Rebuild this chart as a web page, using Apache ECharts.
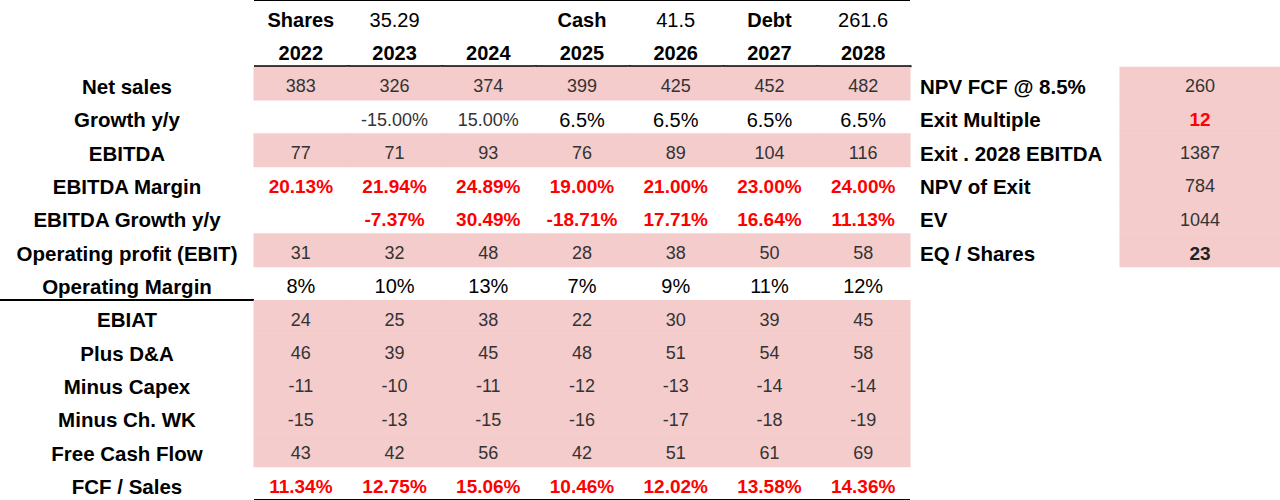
<!DOCTYPE html>
<html>
<head>
<meta charset="utf-8">
<script src="https://cdn.jsdelivr.net/npm/echarts@6/dist/echarts.min.js"></script>
<style>
  html, body { margin: 0; padding: 0; background: #fff; }
  #box { width: 1280px; height: 500px; }
</style>
</head>
<body>
<div id="box"></div>
<script>
var years = ['2022', '2023', '2024', '2025', '2026', '2027', '2028']
var headerTop = ['Shares', '35.29', '', 'Cash', '41.5', 'Debt', '261.6']
var rowLabels = ['Net sales', 'Growth y/y', 'EBITDA', 'EBITDA Margin', 'EBITDA Growth y/y',
  'Operating profit (EBIT)', 'Operating Margin', 'EBIAT', 'Plus D&A', 'Minus Capex',
  'Minus Ch. WK', 'Free Cash Flow', 'FCF / Sales']
var netSales = [383, 326, 374, 399, 425, 452, 482]
var growth = ['', '-15.00%', '15.00%', '6.5%', '6.5%', '6.5%', '6.5%']
var ebitda = [77, 71, 93, 76, 89, 104, 116]
var ebitdaMargin = ['20.13%', '21.94%', '24.89%', '19.00%', '21.00%', '23.00%', '24.00%']
var ebitdaGrowth = ['', '-7.37%', '30.49%', '-18.71%', '17.71%', '16.64%', '11.13%']
var ebit = [31, 32, 48, 28, 38, 50, 58]
var opMargin = ['8%', '10%', '13%', '7%', '9%', '11%', '12%']
var ebiat = [24, 25, 38, 22, 30, 39, 45]
var plusDA = [46, 39, 45, 48, 51, 54, 58]
var capex = [-11, -10, -11, -12, -13, -14, -14]
var changeWK = [-15, -13, -15, -16, -17, -18, -19]
var fcf = [43, 42, 56, 42, 51, 61, 69]
var fcfSales = ['11.34%', '12.75%', '15.06%', '10.46%', '12.02%', '13.58%', '14.36%']
var valuationLabels = ['NPV FCF @ 8.5%', 'Exit Multiple', 'Exit . 2028 EBITDA', 'NPV of Exit', 'EV', 'EQ / Shares']
var valuationValues = [260, 12, 1387, 784, 1044, 23]

var FONT = '"Liberation Sans", Arial, sans-serif'
var PINK = '#f4cccc'
var ROW_H = 33.6
var styles = {
  gray: { fill: '#333', fontSize: 18, fontWeight: 'normal' },
  plain: { fill: '#000', fontSize: 20, fontWeight: 'normal' },
  red: { fill: '#ff0000', fontSize: 19, fontWeight: 'bold' },
  bold: { fill: '#000', fontSize: 20, fontWeight: 'bold' },
  darkBold: { fill: '#222', fontSize: 19, fontWeight: 'bold' }
}

// table rows, top to bottom (2 header rows + 13 data rows)
var tableRows = [
  { values: headerTop, style: function (v) { return isNaN(parseFloat(v)) ? 'bold' : 'plain' } },
  { values: years, style: 'bold', underline: true },
  { values: netSales, style: 'gray', pink: true },
  { values: growth, style: function (v, i) { return i < 3 ? 'gray' : 'plain' } },
  { values: ebitda, style: 'gray', pink: true },
  { values: ebitdaMargin, style: 'red' },
  { values: ebitdaGrowth, style: 'red' },
  { values: ebit, style: 'gray', pink: true },
  { values: opMargin, style: 'plain', rule: true },
  { values: ebiat, style: 'gray', pink: true },
  { values: plusDA, style: 'gray', pink: true },
  { values: capex, style: 'gray', pink: true },
  { values: changeWK, style: 'gray', pink: true },
  { values: fcf, style: 'gray', pink: true },
  { values: fcfSales, style: 'red' }
]

var yLabels = ['', ''].concat(rowLabels)
var yLabelsRight = ['', ''].concat(valuationLabels)
while (yLabelsRight.length < yLabels.length) yLabelsRight.push('')

var cells = []
var mainData = []
tableRows.forEach(function (r, row) {
  r.values.forEach(function (v, col) {
    var st = typeof r.style === 'function' ? r.style(v, col) : r.style
    cells.push({
      text: String(v), style: st, pink: !!r.pink,
      underline: !!r.underline, rule: !!r.rule && col === 0,
      label: col === 0 ? yLabels[row] : '', labelGap: 127, labelAlign: 'center'
    })
    mainData.push([col, row, cells.length - 1])
  })
})
var rightData = []
valuationValues.forEach(function (v, i) {
  var st = i === 1 ? 'red' : (i === 5 ? 'darkBold' : 'gray')
  cells.push({ text: String(v), style: st, pink: true, label: yLabelsRight[i + 2], labelGap: 200, labelAlign: 'left' })
  rightData.push([0, i + 2, cells.length - 1])
})

function renderCell(params, api) {
  var cell = cells[api.value(2)]
  var c = api.coord([api.value(0), api.value(1)])
  var s = api.size([1, 1])
  var x0 = c[0] - s[0] / 2
  var y0 = c[1] - s[1] / 2
  var children = []
  if (cell.pink) {
    children.push({
      type: 'rect',
      shape: { x: x0 - 0.5, y: y0, width: s[0] + 1, height: s[1] + 0.5 },
      style: { fill: PINK }
    })
  }
  if (cell.underline) {
    children.push({
      type: 'rect',
      shape: { x: x0, y: y0 + s[1] - 1.5, width: s[0] + 1.5, height: 2 },
      style: { fill: '#000' }
    })
  }
  // black border under Operating Margin, caption column only
  if (cell.rule) {
    children.push({
      type: 'rect',
      shape: { x: 0, y: y0 + s[1] - 1, width: params.coordSys.x, height: 2 },
      style: { fill: '#000' }
    })
  }
  var st = styles[cell.style]
  children.push({
    type: 'text',
    x: c[0],
    y: c[1] + 3,
    style: {
      text: cell.text, fill: st.fill, fontSize: st.fontSize, fontWeight: st.fontWeight,
      fontFamily: FONT, align: 'center', verticalAlign: 'middle'
    }
  })
  // row caption, placed off the axis edge like an axis label
  if (cell.label) {
    children.push({
      type: 'text',
      x: params.coordSys.x - cell.labelGap,
      y: c[1] + 3,
      style: {
        text: cell.label, fill: '#000', fontSize: 20.5, fontWeight: 'bold',
        fontFamily: FONT, align: cell.labelAlign, verticalAlign: 'middle'
      }
    })
  }
  return { type: 'group', children: children }
}

var hiddenAxis = {
  axisLine: { show: false },
  axisTick: { show: false },
  splitLine: { show: false },
  axisLabel: { show: false }
}

var option = {
  animation: false,
  backgroundColor: '#fff',
  grid: [
    { left: 254, width: 656, top: 0, height: ROW_H * 15 },
    { left: 1120, width: 160, top: 0, height: ROW_H * 15 }
  ],
  xAxis: [
    Object.assign({ type: 'category', gridIndex: 0, data: years }, hiddenAxis),
    Object.assign({ type: 'category', gridIndex: 1, data: ['Value'] }, hiddenAxis)
  ],
  yAxis: [
    {
      type: 'category', gridIndex: 0, inverse: true, data: yLabels, z: 10,
      axisLine: { show: false },
      axisTick: { show: false },
      axisLabel: { show: false },
      // one split line only: the boundary above "Net sales" (rule under the year header)
      splitLine: {
        show: true,
        interval: function (index) { return index === 2 },
        lineStyle: { color: '#000', width: 2 }
      }
    },
    Object.assign({ type: 'category', gridIndex: 1, inverse: true, data: yLabelsRight }, hiddenAxis)
  ],
  series: [
    { type: 'custom', xAxisIndex: 0, yAxisIndex: 0, renderItem: renderCell, data: mainData, silent: true, clip: false },
    { type: 'custom', xAxisIndex: 1, yAxisIndex: 1, renderItem: renderCell, data: rightData, silent: true, clip: false }
  ]
}

var chart = echarts.init(document.getElementById('box'), null, { renderer: 'svg' })
chart.setOption(option, true)
</script>
</body>
</html>
